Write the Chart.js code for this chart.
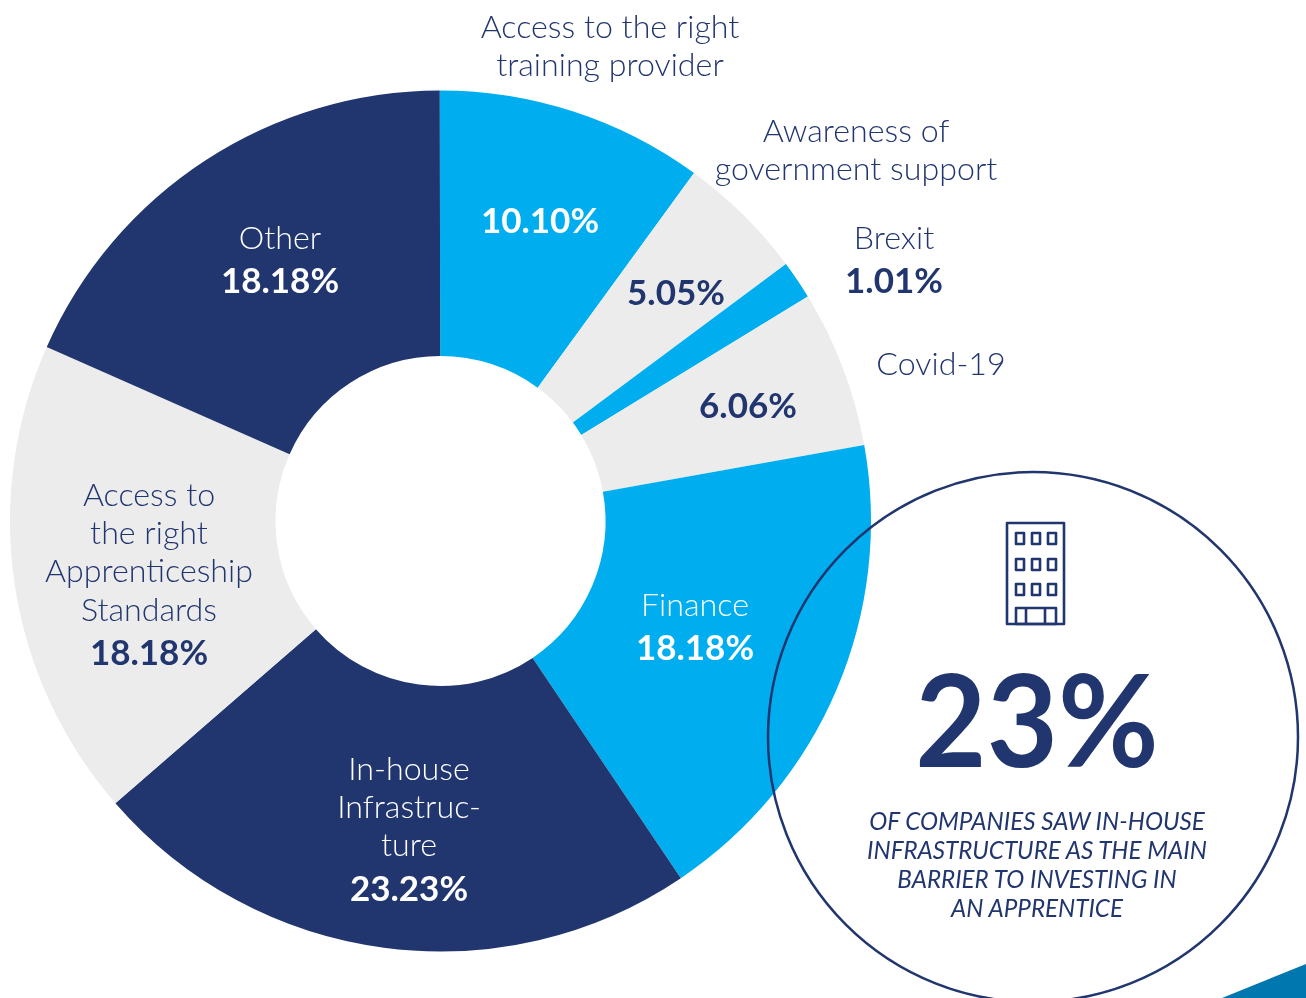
<!DOCTYPE html>
<html>
<head>
<meta charset="utf-8">
<title>Barriers to investing in an apprentice</title>
<script src="https://cdn.jsdelivr.net/npm/chart.js@4/dist/chart.umd.min.js"></script>
<style>
  html, body { margin: 0; padding: 0; background: #fff; }
  #wrap { position: relative; width: 1306px; height: 998px; overflow: hidden; font-family: Lato, sans-serif; color: #21356e; }
  #pie { position: absolute; left: 0; top: 0; }
  #overlay { position: absolute; left: 0; top: 0; }
  .lbl { position: absolute; transform: translateX(-50%); text-align: center; white-space: nowrap; font-size: 32.2px; font-weight: 300; line-height: 38.2px; }
  .lbl b { display: block; font-size: 35px; font-weight: 700; line-height: 46px; }
  .white { color: #fff; }
  #big { position: absolute; left: 1037px; top: 638px; transform: translateX(-50%) scaleX(0.96); font-size: 128px; font-weight: 700; line-height: 160px; }
  #note { position: absolute; left: 1037px; top: 806px; transform: translateX(-50%); text-align: center; white-space: nowrap; font-size: 24.2px; font-style: italic; font-weight: 400; line-height: 29px; }
</style>
</head>
<body>
<div id="wrap">
  <canvas id="pie" width="1306" height="998"></canvas>
  <svg id="overlay" width="1306" height="998" fill="none" stroke="#21356e">
    <polygon points="1222,998 1306,964 1306,998" fill="#0077ae" stroke="none"/>
    <circle cx="1033" cy="737" r="265" stroke-width="2.5"/>
    <g stroke-width="2.6" stroke-linejoin="round">
      <rect x="1007" y="523" width="57" height="101"/>
      <rect x="1016" y="533" width="8" height="11"/><rect x="1032" y="533" width="8" height="11"/><rect x="1048" y="533" width="8" height="11"/>
      <rect x="1016" y="559" width="8" height="11"/><rect x="1032" y="559" width="8" height="11"/><rect x="1048" y="559" width="8" height="11"/>
      <rect x="1016" y="584" width="8" height="11"/><rect x="1032" y="584" width="8" height="11"/><rect x="1048" y="584" width="8" height="11"/>
      <rect x="1016" y="608" width="40" height="16"/>
      <path d="M1026 608V624M1045 608V624"/>
    </g>
  </svg>
  <div id="labels"></div>
  <div id="big">23%</div>
  <div id="note">OF COMPANIES SAW IN-HOUSE<br>INFRASTRUCTURE AS THE MAIN<br>BARRIER TO INVESTING IN<br>AN APPRENTICE</div>
</div>
<script>
const categories = [
  'Access to the right training provider',
  'Awareness of government support',
  'Brexit',
  'Covid-19',
  'Finance',
  'In-house Infrastructure',
  'Access to the right Apprenticeship Standards',
  'Other',
];
// slice sizes as drawn in the picture; they differ a little from the printed labels below
const shares = [10.05, 4.8, 1.45, 5.9, 18.4, 23.05, 18.0, 18.35];
const sliceColors = ['#00aeef', '#ececec', '#00aeef', '#ececec', '#00aeef', '#21356e', '#ececec', '#21356e'];

// label text per slice, name lines first, then the value
const labelLines = [
  ['Access to the right', 'training provider'],
  ['Awareness of', 'government support'],
  ['Brexit'],
  ['Covid-19'],
  ['Finance'],
  ['In-house', 'Infrastruc-', 'ture'],
  ['Access to', 'the right', 'Apprenticeship', 'Standards'],
  ['Other'],
];
const labelValues = ['10.10%', '5.05%', '1.01%', '6.06%', '18.18%', '23.23%', '18.18%', '18.18%'];

// where each label goes on the page
const labelPlaces = [
  { x: 610, y: 7 },
  { x: 856, y: 111 },
  { x: 894, y: 218 },
  { x: 941, y: 344 },
  { x: 695, y: 585, white: true },
  { x: 409, y: 749, white: true },
  { x: 149, y: 475 },
  { x: 280, y: 218, white: true },
];
// values that sit apart from their name
const valueOnly = {
  0: { x: 540, y: 196, white: true },
  1: { x: 676, y: 268 },
  3: { x: 748, y: 381 },
};

function buildLabels() {
  const holder = document.getElementById('labels');
  labelLines.forEach((lines, i) => {
    const place = labelPlaces[i];
    const div = document.createElement('div');
    div.className = 'lbl' + (place.white ? ' white' : '');
    div.style.left = place.x + 'px';
    div.style.top = place.y + 'px';
    div.innerHTML = lines.join('<br>');
    if (!valueOnly[i]) {
      div.innerHTML += '<b>' + labelValues[i] + '</b>';
    }
    holder.appendChild(div);

    if (valueOnly[i]) {
      const val = document.createElement('div');
      val.className = 'lbl' + (valueOnly[i].white ? ' white' : '');
      val.style.left = valueOnly[i].x + 'px';
      val.style.top = valueOnly[i].y + 'px';
      val.innerHTML = '<b>' + labelValues[i] + '</b>';
      holder.appendChild(val);
    }
  });
}

new Chart(document.getElementById('pie'), {
  type: 'doughnut',
  data: {
    labels: categories,
    datasets: [{
      data: shares,
      backgroundColor: sliceColors,
      borderWidth: 0,
    }]
  },
  options: {
    responsive: false,
    animation: false,
    cutout: 165,
    rotation: -0.1,
    layout: { padding: { left: 10, right: 435, top: 90, bottom: 46 } },
    plugins: { legend: { display: false }, tooltip: { enabled: false } }
  }
});

buildLabels();
</script>
</body>
</html>
